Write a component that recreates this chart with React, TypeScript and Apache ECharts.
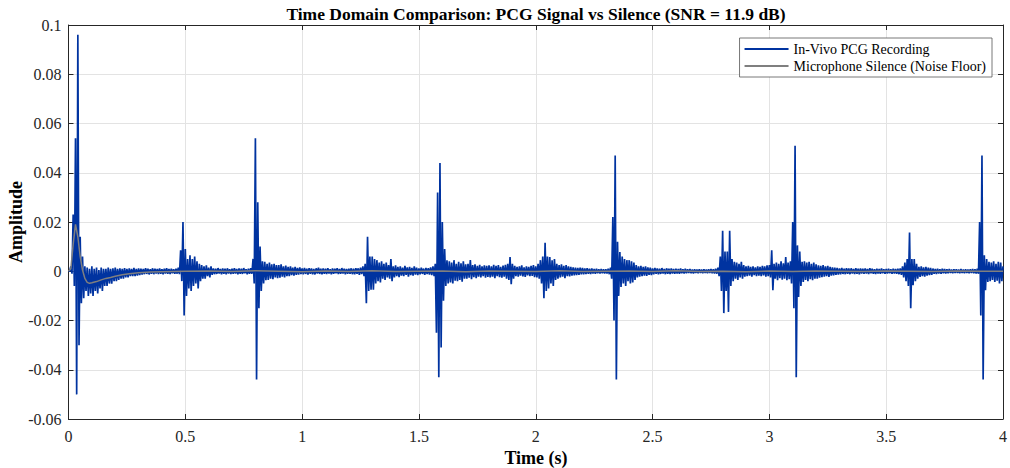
import React, { useEffect, useRef } from "react";
import * as echarts from "echarts";

// ---- Data ----
const chartTitle = "Time Domain Comparison: PCG Signal vs Silence (SNR = 11.9 dB)";
const xAxisTitle = "Time (s)";
const yAxisTitle = "Amplitude";
const seriesNames = ["In-Vivo PCG Recording", "Microphone Silence (Noise Floor)"];

// PCG envelope, in units of 1e-3, one sample every 0.01 s (t = 0 ... 4.00 s).
// Upper values sit at t, lower values at t + 0.005 s.
const envelopeStep = 0.01;
const milli = 0.001;

const pcgUpperMilli = [
  0, 2, 23, 54, 96, 14, 6, 2, 1.5, 1,
  2, 1, 1.5, 0.5, 1.5, 1, 1, 1.5, 1, 1.2,
  1.5, 1, 1.2, 1, 1.3, 1, 1.2, 1, 1.4, 1,
  1.2, 1.1, 0.9, 1.3, 1, 0.8, 1.2, 1, 0.9, 1.1,
  0.8, 1, 1.2, 0.9, 1, 0.8, 1, 1.5, 8.5, 20,
  9, 5, 6.5, 5, 6, 4, 3, 2.5, 2, 2.4,
  1.5, 2, 1.2, 1, 1.3, 0.9, 1.1, 1, 1.2, 0.8,
  1, 1.2, 0.9, 1.1, 1, 1.3, 0.8, 1, 1.2, 5,
  54, 28, 10, 4, 3.8, 3, 3.5, 2.8, 3, 2.5,
  2.5, 2.8, 2, 2.3, 1.8, 2, 1.5, 1.8, 1.4, 1.6,
  1.2, 1.4, 1, 1.3, 1.1, 0.9, 1.2, 1.5, 1, 1.1,
  1, 1.2, 0.8, 1.1, 1, 1.2, 0.9, 1.3, 1, 0.9,
  1, 1.2, 1, 1.3, 1.2, 1.5, 2, 3, 14, 6,
  6, 5, 4.5, 3.5, 4, 3, 3.5, 2.5, 5, 2,
  2.4, 1.8, 2, 1.5, 2.2, 1.6, 1.8, 1.4, 2, 1.5,
  1.2, 1.5, 1.1, 1.4, 1.3, 1.6, 2, 3, 32, 44,
  20, 9, 4.5, 4, 3.5, 4.5, 3, 3.8, 3.2, 4,
  2.8, 3, 4.5, 2.5, 2.8, 2.2, 2.6, 2, 2.4, 2.2,
  2.4, 2, 2.6, 2.2, 2.5, 1.8, 2.3, 2.6, 3, 5.8,
  3, 2.2, 1.8, 2, 2.4, 1.6, 2, 1.8, 2.2, 2.5,
  2, 3, 4.5, 6, 11.6, 6, 5.8, 4.5, 5, 3,
  2.5, 2.8, 2.2, 2.5, 2, 1.8, 1.6, 1.5, 1.4, 1.5,
  1.4, 1.2, 1.3, 1, 1.1, 0.9, 1, 0.8, 0.9, 0.8,
  0.8, 1, 1.5, 22, 47, 12, 7.8, 6, 5, 4.5,
  4.5, 4, 3.5, 2.5, 2, 2.2, 1.8, 2, 1.6, 1.5,
  1.2, 1.4, 1.1, 1, 1.3, 0.9, 1.2, 1, 1.1, 0.9,
  1, 0.9, 1.1, 0.8, 1, 0.8, 0.9, 0.7, 0.8, 0.7,
  0.8, 0.7, 0.8, 0.7, 0.8, 0.9, 0.8, 1, 1.5, 6,
  16.4, 8, 8, 16.4, 5, 3.8, 3.5, 3, 3.8, 2.5,
  2, 2.2, 1.8, 2, 1.6, 2, 1.8, 2.2, 2, 2.4,
  2.5, 8.5, 3, 3.5, 3, 4, 3.2, 5.8, 3.5, 4,
  20, 51, 10.5, 8, 3.8, 4, 3.5, 3.8, 3, 3.5,
  2.8, 2.4, 2.2, 2.5, 2, 2.2, 1.8, 1.6, 1.5, 1.4,
  1.2, 1.4, 1, 1.3, 1.1, 1.2, 0.9, 1.2, 1, 1.1,
  1, 1.1, 0.9, 1.2, 1, 0.8, 1, 0.9, 1.1, 0.8,
  0.9, 1, 0.8, 1, 0.9, 1, 1.2, 2, 3.5, 5,
  15.7, 5, 5, 3, 1.8, 2, 1.6, 1.8, 1.5, 1.4,
  1.1, 0.9, 1, 0.8, 1, 0.9, 0.8, 0.9, 0.7, 0.8,
  0.8, 0.7, 0.9, 0.7, 0.8, 0.7, 0.8, 0.9, 0.8, 1,
  20, 47, 6.5, 5, 3.8, 3.5, 4, 3, 3.8, 3.5,
  2,
];

const pcgLowerMilli = [
  0, -1, -6, -50, -30, -13, -11, -8, -10, -9,
  -10, -8, -9, -7, -8, -6, -6, -5, -5, -4,
  -4, -3.5, -3, -3, -2.5, -2.5, -2, -2, -2, -1.8,
  -1.6, -1.4, -1.2, -1.1, -1.3, -1, -1.2, -0.9, -1.1, -1,
  -1.2, -0.9, -1, -1.1, -0.8, -1, -1, -1.2, -4, -18,
  -10, -7, -8, -6, -5, -7, -4, -3, -3, -2,
  -2.5, -1.5, -1.2, -1.1, -0.9, -1.2, -1, -1.3, -0.9, -1.1,
  -1, -0.9, -1.2, -1, -1.1, -0.8, -1.2, -1, -1, -5,
  -44, -15, -8, -5, -3.6, -3.5, -3, -3.2, -2.5, -2.8,
  -2.6, -2.2, -2.5, -2, -2, -1.6, -1.8, -1.5, -1.4, -1.2,
  -1.3, -1.1, -1.4, -1, -1.2, -1.3, -0.9, -1.1, -1.2, -1,
  -1.1, -0.9, -1.2, -1, -0.8, -1.1, -1, -0.9, -1.2, -1,
  -1, -1.2, -1.3, -1, -1.5, -1.2, -2, -13, -8, -7.5,
  -7.5, -5, -4, -4.5, -3, -3.5, -2.5, -3, -4, -2.5,
  -2, -2.4, -1.8, -2, -1.5, -2.2, -1.6, -1.8, -1.4, -1.6,
  -1.3, -1.1, -1.5, -1.2, -1.4, -1.6, -2, -25, -43, -31,
  -12, -6, -5, -4.5, -5, -3.8, -4, -3.5, -4.2, -3,
  -3, -2.6, -3.2, -2.4, -2.8, -2.2, -2.5, -2, -2.6, -2.3,
  -2.5, -2.2, -2.8, -2, -2.4, -2.6, -2.2, -3, -3.5, -5.3,
  -3, -2, -2.2, -1.8, -2.1, -2.3, -1.7, -2, -1.9, -2.4,
  -2.5, -3, -5, -11, -8, -7, -5, -6, -3.5, -3,
  -2.5, -2.2, -2.8, -2, -2.1, -1.8, -1.7, -1.6, -1.5, -1.3,
  -1.3, -1.2, -1, -1.1, -0.9, -1, -0.8, -0.9, -0.8, -0.9,
  -0.9, -1.2, -3, -20, -44, -10, -6.4, -5, -6, -4,
  -5, -4.5, -3.5, -2.5, -2.2, -2, -1.8, -1.9, -1.5, -1.6,
  -1.3, -1, -1.2, -1.1, -0.9, -1.2, -1, -1.1, -0.9, -1,
  -0.9, -1, -0.8, -0.9, -0.8, -0.7, -0.8, -0.9, -0.7, -0.8,
  -0.7, -0.8, -0.7, -0.8, -0.7, -0.8, -0.9, -1, -2, -8,
  -17, -8, -16.5, -6, -4, -3, -3.5, -2.5, -3, -2.2,
  -2, -1.8, -2.2, -1.6, -2, -1.8, -2, -1.7, -2.2, -2,
  -2.5, -7.7, -3, -3.6, -2.8, -3.4, -3, -3.6, -3.2, -5,
  -15, -43, -10.4, -6, -4.3, -3.5, -4, -3.2, -3.6, -3,
  -3, -2.6, -2.4, -2.2, -2, -2.3, -1.8, -1.7, -1.5, -1.4,
  -1.3, -1.1, -1.2, -1, -1.2, -0.9, -1.1, -1, -1.2, -0.9,
  -1, -0.9, -1.1, -0.8, -1, -1.1, -0.9, -1, -0.8, -1,
  -0.9, -0.8, -1, -0.9, -1, -1.2, -1.5, -2.5, -4, -6,
  -15, -5.7, -4, -3, -2.3, -2, -2.2, -1.8, -1.6, -1.5,
  -1, -1.1, -0.9, -1, -0.8, -0.9, -0.8, -0.7, -0.8, -0.7,
  -0.7, -0.8, -0.7, -0.8, -0.7, -0.8, -0.7, -0.8, -0.9, -1,
  -18, -44, -7.7, -4.3, -4, -3.5, -4.3, -3.8, -5, -4,
  -2,
];

// Silence (noise floor) trace, times in s and values in units of 1e-3
const silenceTimes = [
  0, 0.01, 0.02, 0.03, 0.04, 0.05, 0.06, 0.07, 0.08, 0.09, 0.1,
  0.12, 0.14, 0.16, 0.18, 0.2, 0.23, 0.26, 0.3, 0.35, 0.4, 0.45, 0.5,
  0.6, 0.7, 0.8, 0.9, 1.0, 1.1, 1.2, 1.3, 1.4, 1.5, 1.6, 1.7, 1.8, 1.9, 2.0,
  2.1, 2.2, 2.3, 2.4, 2.5, 2.6, 2.7, 2.8, 2.9, 3.0, 3.1, 3.2, 3.3, 3.4, 3.5,
  3.6, 3.7, 3.8, 3.9, 4.0,
];
const silenceMilli = [
  0, 1, 11, 19, 14, 6, 0.5, -2.9, -4.5, -4.9, -4.7,
  -4.2, -3.5, -2.9, -2.5, -2, -1.4, -1, -0.6, -0.35, -0.2, -0.1, 0,
  0.1, -0.1, 0.2, 0, -0.2, 0.1, -0.1, 0.2, -0.1, 0, 0.1, -0.2, 0.1, 0, -0.1,
  0.2, -0.1, 0, 0.1, -0.1, 0.2, -0.1, 0, -0.2, 0.1, -0.1, 0.1, 0, -0.1, 0.1,
  0, -0.1, 0.1, 0, 0,
];

const xMin = 0, xMax = 4, xInterval = 0.5;
const yMin = -0.06, yMax = 0.1, yInterval = 0.02;

const pcgColor = "#0033a0";
const silenceColor = "#7f7f7f";
const serif = "'Liberation Serif', 'Times New Roman', serif";

export default function App() {
  const ref = useRef<HTMLDivElement>(null);

  useEffect(() => {
    if (!ref.current) return;
    const chart = echarts.init(ref.current, undefined, { renderer: "svg" });

    const pcgData: number[][] = [];
    for (let i = 0; i < pcgUpperMilli.length; i++) {
      const t = i * envelopeStep;
      pcgData.push([t, pcgUpperMilli[i] * milli]);
      const tl = t + envelopeStep / 2;
      if (tl <= xMax) pcgData.push([tl, pcgLowerMilli[i] * milli]);
    }
    const silenceData = silenceTimes.map((t, i) => [t, silenceMilli[i] * milli]);

    const axisColor = "#262626";
    const fmtY = (v: number) => {
      const r = Math.round(v * 100) / 100;
      return r === 0 ? "0" : String(r);
    };
    const fmtX = (v: number) => String(Math.round(v * 10) / 10);

    const baseX = {
      type: "value",
      min: xMin,
      max: xMax,
      interval: xInterval,
      axisLine: { show: true, onZero: false, lineStyle: { color: axisColor, width: 1 } },
      axisTick: { show: true, inside: true, length: 5, lineStyle: { color: axisColor } },
    };
    const baseY = {
      type: "value",
      min: yMin,
      max: yMax,
      interval: yInterval,
      axisLine: { show: true, onZero: false, lineStyle: { color: axisColor, width: 1 } },
      axisTick: { show: true, inside: true, length: 5, lineStyle: { color: axisColor } },
    };

    chart.setOption({
      animation: false,
      backgroundColor: "#ffffff",
      grid: { left: 68.5, right: 6, top: 25, bottom: 49, containLabel: false },
      xAxis: [
        {
          ...baseX,
          position: "bottom",
          axisLabel: { color: axisColor, fontFamily: serif, fontSize: 16, margin: 9, formatter: fmtX },
          splitLine: { show: true, lineStyle: { color: "#e3e3e3", width: 1 } },
        },
        {
          ...baseX,
          position: "top",
          axisLabel: { show: false },
          splitLine: { show: false },
        },
      ],
      yAxis: [
        {
          ...baseY,
          position: "left",
          axisLabel: { color: axisColor, fontFamily: serif, fontSize: 16, margin: 7, formatter: fmtY },
          splitLine: { show: true, lineStyle: { color: "#e3e3e3", width: 1 } },
        },
        {
          ...baseY,
          position: "right",
          axisLabel: { show: false },
          splitLine: { show: false },
        },
      ],
      legend: {
        orient: "vertical",
        right: 18,
        top: 38,
        icon: "rect",
        itemWidth: 44,
        itemHeight: 2,
        itemGap: 3,
        padding: [4, 6, 4, 5],
        backgroundColor: "#ffffff",
        borderColor: "#555555",
        borderWidth: 0.8,
        borderRadius: 0,
        textStyle: { fontFamily: serif, fontSize: 14, color: "#000000" },
        data: seriesNames,
      },
      graphic: [
        {
          type: "text",
          x: 536,
          y: 14,
          style: {
            text: chartTitle,
            align: "center",
            verticalAlign: "middle",
            fontFamily: serif,
            fontSize: 17.5,
            fontWeight: "bold",
            fill: "#000000",
          },
        },
        {
          type: "text",
          x: 536,
          y: 458,
          style: {
            text: xAxisTitle,
            align: "center",
            verticalAlign: "middle",
            fontFamily: serif,
            fontSize: 18,
            fontWeight: "bold",
            fill: "#000000",
          },
        },
        {
          type: "text",
          x: 16,
          y: 222,
          rotation: Math.PI / 2,
          style: {
            text: yAxisTitle,
            align: "center",
            verticalAlign: "middle",
            fontFamily: serif,
            fontSize: 18,
            fontWeight: "bold",
            fill: "#000000",
          },
        },
      ],
      series: [
        {
          name: seriesNames[0],
          type: "line",
          data: pcgData,
          showSymbol: false,
          symbol: "none",
          color: pcgColor,
          itemStyle: { color: pcgColor },
          lineStyle: { color: pcgColor, width: 1.7 },
          z: 2,
          silent: true,
        },
        {
          name: seriesNames[1],
          type: "line",
          data: silenceData,
          showSymbol: false,
          symbol: "none",
          color: silenceColor,
          itemStyle: { color: silenceColor },
          lineStyle: { color: silenceColor, width: 1.5 },
          z: 3,
          silent: true,
        },
      ],
    });

    return () => chart.dispose();
  }, []);

  return (
    <div
      ref={ref}
      style={{ position: "absolute", left: 0, top: 0, width: 1010, height: 468 }}
    />
  );
}
